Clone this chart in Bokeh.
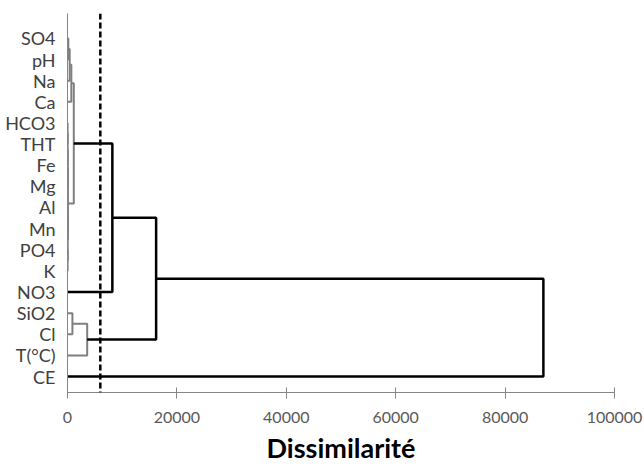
from bokeh.plotting import figure
from bokeh.models import Range1d, FixedTicker, Span, BasicTickFormatter, ColumnDataSource
from bokeh.embed import file_html
from bokeh.resources import INLINE

# Leaves in display order (top to bottom)
leaf_labels = ["SO4", "pH", "Na", "Ca", "HCO3", "THT", "Fe", "Mg", "Al",
               "Mn", "PO4", "K", "NO3", "SiO2", "Cl", "T(°C)", "CE"]

# Agglomeration steps: node ids 0..16 are leaves, new nodes get 17, 18, ...
merge_left = [0, 17, 18, 4, 20, 21, 8, 10, 23, 22, 19, 27, 13, 29, 28, 31]
merge_right = [1, 2, 3, 5, 6, 7, 9, 11, 24, 25, 26, 12, 14, 15, 30, 16]
merge_height = [150, 400, 700, 20, 30, 40, 20, 20, 40, 80, 1150, 8200, 900, 3600, 16200, 87000]

threshold = 6000  # truncation (dashed line)

x_ticks = [0, 20000, 40000, 60000, 80000, 100000]
x_title = "Dissimilarité"

# ---- compute dendrogram segments ----
pos = {i: float(i) for i in range(len(leaf_labels))}
hgt = {i: 0.0 for i in range(len(leaf_labels))}
xs, ys, cols, widths = [], [], [], []
node = len(leaf_labels)
for a, b, h in zip(merge_left, merge_right, merge_height):
    xs.append([hgt[a], h, h, hgt[b]])
    ys.append([pos[a], pos[a], pos[b], pos[b]])
    if h < threshold:
        cols.append("#7f7f7f")
        widths.append(2.0)
    else:
        cols.append("#000000")
        widths.append(2.5)
    pos[node] = (pos[a] + pos[b]) / 2.0
    hgt[node] = h
    node += 1

src = ColumnDataSource(dict(xs=xs, ys=ys, color=cols, width=widths))

n = len(leaf_labels)
p = figure(width=644, height=466, output_backend="svg", toolbar_location=None,
           x_range=Range1d(0, 100000), y_range=Range1d(n - 1 + 0.755, -1.18),
           min_border_left=67, min_border_right=30, min_border_top=13,
           min_border_bottom=73)
p.outline_line_color = None
p.grid.visible = False
p.background_fill_color = "white"
p.border_fill_color = "white"

p.multi_line(xs="xs", ys="ys", line_color="color", line_width="width", source=src)

p.add_layout(Span(location=threshold, dimension="height", line_color="black",
                  line_dash="6 3", line_width=2.5))

xa = p.xaxis[0]
xa.ticker = FixedTicker(ticks=x_ticks)
xa.formatter = BasicTickFormatter(use_scientific=False)
xa.major_tick_in = 5
xa.major_tick_out = 6
xa.major_tick_line_color = "#868686"
xa.minor_tick_line_color = None
xa.axis_line_color = "#868686"
xa.major_label_text_font = "Lato"
xa.major_label_text_font_size = "16px"
xa.major_label_text_color = "#595959"
xa.major_label_standoff = 13
xa.axis_label = x_title
xa.axis_label_text_font = "Lato"
xa.axis_label_text_font_style = "bold"
xa.axis_label_text_font_size = "27px"
xa.axis_label_text_color = "#000000"
xa.axis_label_standoff = 5

ya = p.yaxis[0]
ya.ticker = FixedTicker(ticks=list(range(n)))
ya.major_label_overrides = {i: lab for i, lab in enumerate(leaf_labels)}
ya.major_tick_line_color = None
ya.minor_tick_line_color = None
ya.axis_line_color = "#868686"
ya.major_label_text_font = "Lato"
ya.major_label_text_font_size = "18px"
ya.major_label_text_color = "#404040"
ya.major_label_standoff = 6

open("out.html", "w").write(file_html(p, INLINE))
